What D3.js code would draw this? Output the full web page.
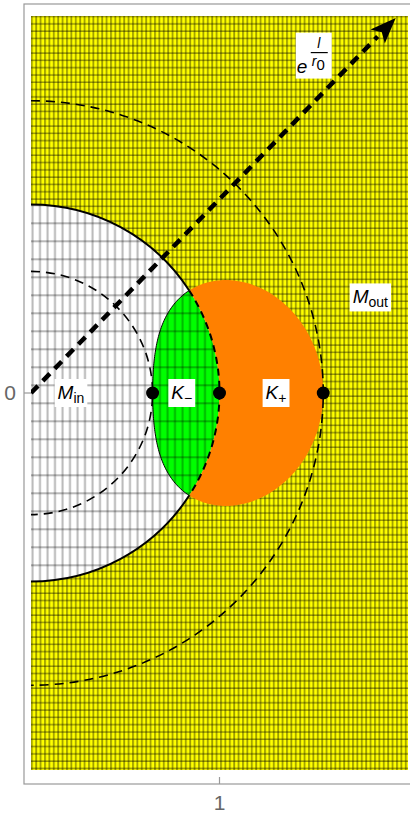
<!DOCTYPE html>
<html>
<head>
<meta charset="utf-8">
<script src="https://cdn.jsdelivr.net/npm/d3@7"></script>
<style>
  html, body { margin: 0; padding: 0; background: #fff; }
  svg { display: block; font-family: "Liberation Sans", Arial, sans-serif; }
</style>
</head>
<body>
<svg id="chart" width="410" height="814"></svg>
<script>
// inversion pair: r0 and 1/r0 around the unit circle
const r0 = 0.645;
const circleRadii = [r0, 1, 1 / r0];
// half-opening (radians) of the K lens where it meets the unit circle
const lensAngle = 0.575;
// marked points on the axis
const dotX = [r0, 1, 1 / r0];
const xTicks = [1];
const yTicks = [0];
const xDomain = [0, 2];
const yDomain = [-2, 2];
// tip of the e^{l/r0} arrow
const arrowEnd = [1.935, 1.99];
// region labels: main letter, subscript, anchor in data units
const labels = [
  { main: 'M', sub: 'in',  at: [0.212, 0] },
  { main: 'K', sub: '\u2212', at: [0.80, 0] },
  { main: 'K', sub: '+',   at: [1.30, 0] },
  { main: 'M', sub: 'out', at: [1.80, 0.507] }
];
const expLabelAt = [1.50, 1.79];

const svg = d3.select('#chart');
const plot = { left: 31, right: 408, top: 16, bottom: 770 };
const frame = { left: 24, top: 4, right: 417, bottom: 784 };

const x = d3.scaleLinear().domain(xDomain).range([plot.left, plot.right]);
const y = d3.scaleLinear().domain(yDomain).range([plot.bottom, plot.top]);
const unit = x(1) - x(0);
const cx = x(0), cy = y(0);

const defs = svg.append('defs');
defs.append('clipPath').attr('id', 'plotClip')
  .append('rect')
  .attr('x', plot.left).attr('y', plot.top)
  .attr('width', plot.right - plot.left).attr('height', plot.bottom - plot.top);
defs.append('clipPath').attr('id', 'diskClip')
  .append('circle').attr('cx', cx).attr('cy', cy).attr('r', unit);

// mesh of the outer region
const outerMesh = defs.append('pattern').attr('id', 'outerMesh')
  .attr('patternUnits', 'userSpaceOnUse').attr('width', 4.4).attr('height', 7.3);
outerMesh.append('rect').attr('width', 4.4).attr('height', 7.3).attr('fill', '#ffff00');
outerMesh.append('line').attr('x1', 1).attr('x2', 1).attr('y1', 0).attr('y2', 7.3)
  .attr('stroke', 'rgba(0,0,0,0.38)').attr('stroke-width', 1.8);
outerMesh.append('line').attr('x1', 0).attr('x2', 4.4).attr('y1', 2).attr('y2', 2)
  .attr('stroke', 'rgba(0,0,0,0.4)').attr('stroke-width', 1.5);

// mesh of the inner disk (transparent lines so the green shows through)
const innerMesh = defs.append('pattern').attr('id', 'innerMesh')
  .attr('patternUnits', 'userSpaceOnUse').attr('width', 7.5).attr('height', 18);
innerMesh.append('line').attr('x1', 2.5).attr('x2', 2.5).attr('y1', 0).attr('y2', 18)
  .attr('stroke', 'rgba(0,0,0,0.28)').attr('stroke-width', 2);
innerMesh.append('line').attr('x1', 0).attr('x2', 7.5).attr('y1', 7.3).attr('y2', 7.3)
  .attr('stroke', 'rgba(0,0,0,0.28)').attr('stroke-width', 2);

// frame
svg.append('rect')
  .attr('x', frame.left).attr('y', frame.top)
  .attr('width', frame.right - frame.left).attr('height', frame.bottom - frame.top)
  .attr('fill', 'none').attr('stroke', '#999').attr('stroke-width', 1.2);

const g = svg.append('g').attr('clip-path', 'url(#plotClip)');

// outer region
g.append('rect')
  .attr('x', plot.left).attr('y', plot.top)
  .attr('width', plot.right - plot.left).attr('height', plot.bottom - plot.top)
  .attr('fill', 'url(#outerMesh)');

// inner disk
g.append('circle').attr('cx', cx).attr('cy', cy).attr('r', unit).attr('fill', '#fff');

// K lens: an ellipse in (log r, theta)
const a = Math.log(1 / r0);
function lensPoint(t) {
  const u = a * Math.cos(t), th = lensAngle * Math.sin(t);
  return [Math.exp(u) * Math.cos(th), Math.exp(u) * Math.sin(th)];
}
function unitPoint(th) { return [Math.cos(th), Math.sin(th)]; }
const line = d3.line().x(d => x(d[0])).y(d => y(d[1]));
const N = 120;
const lensLeft = d3.range(N + 1).map(i => lensPoint(Math.PI / 2 + Math.PI * i / N));
const lensRight = d3.range(N + 1).map(i => lensPoint(-Math.PI / 2 + Math.PI * i / N));
const arcUp = d3.range(N + 1).map(i => unitPoint(-lensAngle + 2 * lensAngle * i / N));
const arcDown = arcUp.slice().reverse();

g.append('path').attr('d', line(lensLeft.concat(arcUp)) + 'Z').attr('fill', '#00ff00');

// inner mesh over the disk
g.append('rect')
  .attr('x', plot.left).attr('y', plot.top)
  .attr('width', plot.right - plot.left).attr('height', plot.bottom - plot.top)
  .attr('fill', 'url(#innerMesh)').attr('clip-path', 'url(#diskClip)');

g.append('path').attr('d', line(lensRight.concat(arcDown)) + 'Z').attr('fill', '#ff8000');

// edge of K_- against the disk
g.append('path').attr('d', line(lensLeft)).attr('fill', 'none')
  .attr('stroke', '#000').attr('stroke-width', 1);

// unit circle: solid outside the lens, dashed inside it
function arcPath(R, a0, a1) {
  const p = d3.path();
  p.arc(cx, cy, R * unit, a0, a1);
  return p.toString();
}
g.append('path').attr('d', arcPath(1, -Math.PI / 2, -lensAngle))
  .attr('fill', 'none').attr('stroke', '#000').attr('stroke-width', 2);
g.append('path').attr('d', arcPath(1, lensAngle, Math.PI / 2))
  .attr('fill', 'none').attr('stroke', '#000').attr('stroke-width', 2);
g.append('path').attr('d', arcPath(1, -lensAngle, lensAngle))
  .attr('fill', 'none').attr('stroke', '#000').attr('stroke-width', 2)
  .attr('stroke-dasharray', '7,5');

// r0 and 1/r0 circles
[circleRadii[0], circleRadii[2]].forEach(R => {
  g.append('path').attr('d', arcPath(R, -Math.PI / 2, Math.PI / 2))
    .attr('fill', 'none').attr('stroke', '#000').attr('stroke-width', 1.6)
    .attr('stroke-dasharray', '9,6');
});

// arrow
const ax0 = x(0), ay0 = y(0), ax1 = x(arrowEnd[0]), ay1 = y(arrowEnd[1]);
const ang = Math.atan2(ay1 - ay0, ax1 - ax0);
const headLen = 26, headW = 10;
const bx = ax1 - headLen * Math.cos(ang), by = ay1 - headLen * Math.sin(ang);
g.append('line').attr('x1', ax0).attr('y1', ay0).attr('x2', bx).attr('y2', by)
  .attr('stroke', '#000').attr('stroke-width', 4.5).attr('stroke-dasharray', '10,7');
g.append('path')
  .attr('d', `M${ax1},${ay1}L${bx - headW * Math.sin(ang)},${by + headW * Math.cos(ang)}` +
    `L${bx + 6 * Math.cos(ang)},${by + 6 * Math.sin(ang)}` +
    `L${bx + headW * Math.sin(ang)},${by - headW * Math.cos(ang)}Z`)
  .attr('fill', '#000');

// dots
svg.selectAll('circle.dot').data(dotX).enter().append('circle')
  .attr('class', 'dot').attr('cx', d => x(d)).attr('cy', y(0)).attr('r', 6.5).attr('fill', '#000');

// labels with white boxes
labels.forEach(l => {
  const lg = svg.append('g').attr('transform', `translate(${x(l.at[0])},${y(l.at[1])})`);
  const t = lg.append('text').attr('text-anchor', 'middle').attr('y', 6).attr('fill', '#000');
  t.append('tspan').attr('font-style', 'italic').attr('font-size', 19).text(l.main);
  t.append('tspan').attr('font-size', 14).attr('dy', 4).text(l.sub);
  const bb = t.node().getBBox();
  lg.insert('rect', 'text').attr('x', bb.x - 3).attr('y', -14).attr('width', bb.width + 6)
    .attr('height', 28).attr('fill', '#fff');
});

// e^{l/r0}
const eg = svg.append('g').attr('transform', `translate(${x(expLabelAt[0])},${y(expLabelAt[1])})`);
eg.append('rect').attr('x', -18).attr('y', -23).attr('width', 36).attr('height', 46).attr('fill', '#fff');
eg.append('text').attr('x', -17).attr('y', 17).attr('font-size', 19).attr('font-style', 'italic').text('e');
eg.append('text').attr('x', 5).attr('y', -8).attr('text-anchor', 'middle')
  .attr('font-size', 14).attr('font-style', 'italic').text('l');
eg.append('line').attr('x1', -3).attr('x2', 14).attr('y1', -3).attr('y2', -3)
  .attr('stroke', '#000').attr('stroke-width', 1.2);
const den = eg.append('text').attr('x', -2).attr('y', 10).attr('font-size', 14);
den.append('tspan').attr('font-style', 'italic').text('r');
den.append('tspan').attr('font-size', 15).attr('dy', 4).text('0');

// ticks
svg.selectAll('line.xt').data(xTicks).enter().append('line')
  .attr('class', 'xt')
  .attr('x1', d => x(d)).attr('x2', d => x(d)).attr('y1', frame.bottom).attr('y2', frame.bottom - 7)
  .attr('stroke', '#999').attr('stroke-width', 1.2);
svg.selectAll('text.xt').data(xTicks).enter().append('text')
  .attr('class', 'xt')
  .attr('x', d => x(d)).attr('y', frame.bottom + 26).attr('text-anchor', 'middle')
  .style('font-size', '21px').attr('fill', '#666').text(d => d);
svg.selectAll('line.yt').data(yTicks).enter().append('line')
  .attr('class', 'yt')
  .attr('x1', frame.left).attr('x2', frame.left + 7).attr('y1', d => y(d)).attr('y2', d => y(d))
  .attr('stroke', '#999').attr('stroke-width', 1.2);
svg.selectAll('text.yt').data(yTicks).enter().append('text')
  .attr('class', 'yt')
  .attr('x', 16).attr('y', d => y(d) + 7).attr('text-anchor', 'end')
  .style('font-size', '21px').attr('fill', '#666').text(d => d);
</script>
</body>
</html>
